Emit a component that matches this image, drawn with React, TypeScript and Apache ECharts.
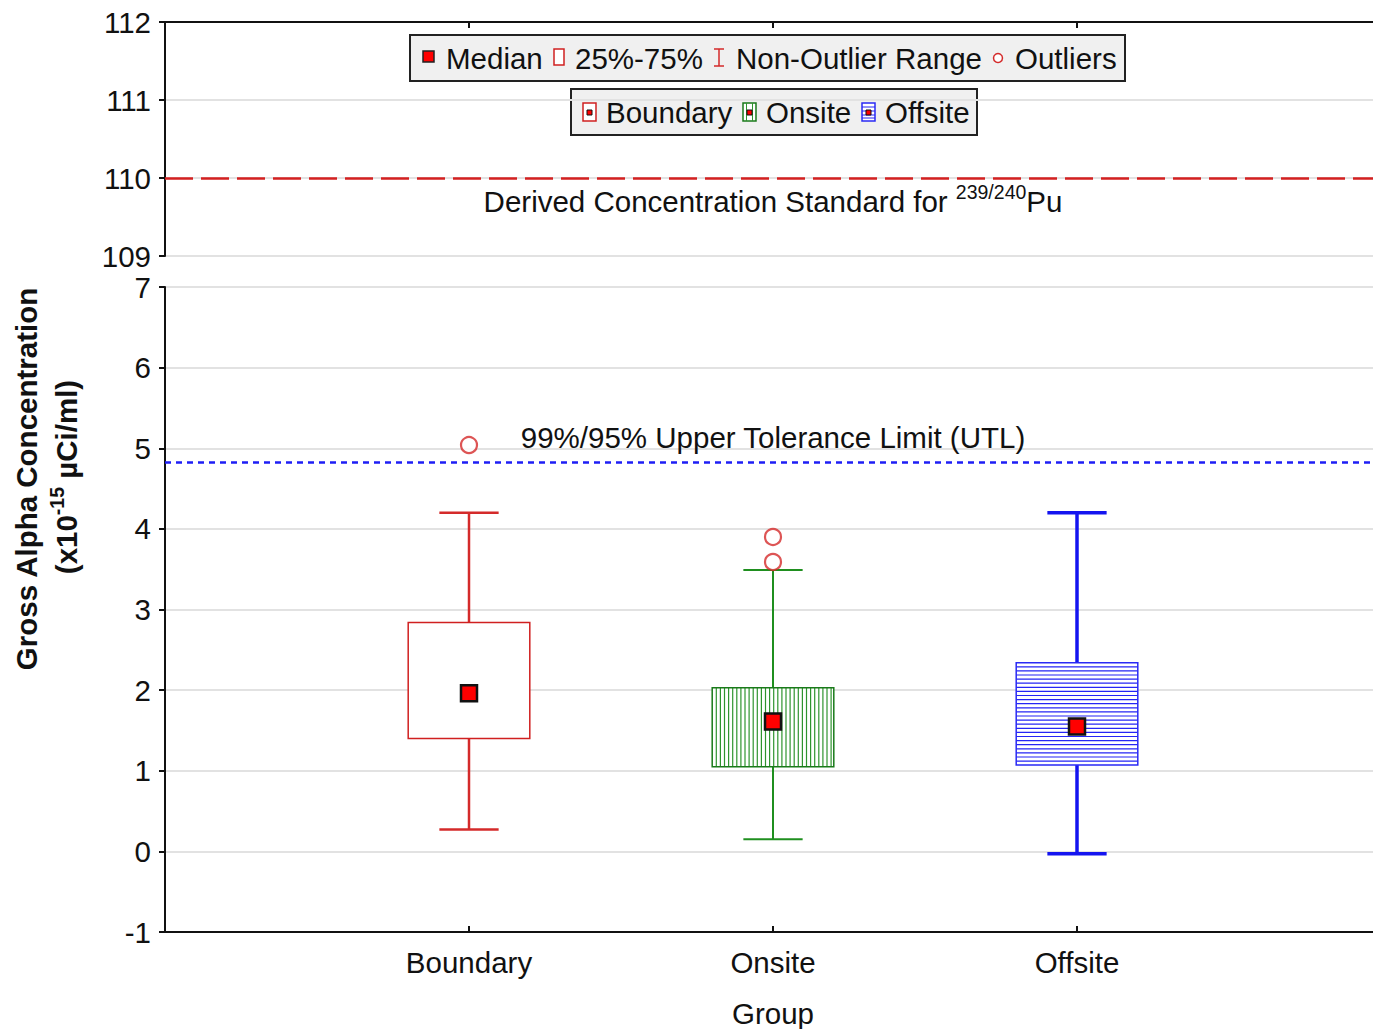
import React, { useEffect, useRef } from "react";
import * as echarts from "echarts";

// Sampling groups and their box-plot statistics (x10^-15 µCi/ml)
const groups = ["Boundary", "Onsite", "Offsite"];
const q1 = [1.4, 1.05, 1.07];
const medians = [1.96, 1.61, 1.55];
const q3 = [2.84, 2.03, 2.34];
const whiskerLow = [0.27, 0.15, -0.03];
const whiskerHigh = [4.2, 3.49, 4.2];
const outlierGroup = ["Boundary", "Onsite", "Onsite"];
const outlierValue = [5.04, 3.9, 3.59];

// Reference levels
const dcsLevel = 110; // Derived Concentration Standard for 239/240Pu
const utlLevel = 4.83; // 99%/95% upper tolerance limit

// Broken value axis: upper and lower panels
const upperRange = [109, 112];
const lowerRange = [-1, 7];

const FONT = "'Liberation Sans', Arial, Helvetica, sans-serif";
const TXT = "#111";
const FS = 29.5;

type GroupStyle = { line: string; box: string; hatch: string; fill: "plain" | "vertical" | "horizontal"; whisker: number };
const groupStyles: GroupStyle[] = [
  { line: "#d42a2a", box: "#d02020", hatch: "#d02020", fill: "plain", whisker: 2.5 },
  { line: "#1f8f1f", box: "#1a7a1a", hatch: "#2f942f", fill: "vertical", whisker: 2 },
  { line: "#1414f0", box: "#2a2af5", hatch: "#2525f5", fill: "horizontal", whisker: 3.5 },
];

const BOX_WIDTH = 0.4; // in x-axis units
const CAP_WIDTH = 0.195;
const HATCH_STEP = 4.1;

function renderBox(params: any, api: any) {
  const gi = api.value(6) as number;
  const st = groupStyles[gi];
  const x = api.value(0);
  const [cx, yQ1] = api.coord([x, api.value(1)]);
  const yMed = api.coord([x, api.value(2)])[1];
  const yQ3 = api.coord([x, api.value(3)])[1];
  const yLo = api.coord([x, api.value(4)])[1];
  const yHi = api.coord([x, api.value(5)])[1];
  const half = api.size([BOX_WIDTH, 0])[0] / 2;
  const capHalf = api.size([CAP_WIDTH, 0])[0] / 2;
  const wl = { stroke: st.line, lineWidth: st.whisker };
  const children: any[] = [
    { type: "line", shape: { x1: cx, y1: yHi, x2: cx, y2: yQ3 }, style: wl },
    { type: "line", shape: { x1: cx, y1: yQ1, x2: cx, y2: yLo }, style: wl },
    { type: "line", shape: { x1: cx - capHalf, y1: yHi, x2: cx + capHalf, y2: yHi }, style: wl },
    { type: "line", shape: { x1: cx - capHalf, y1: yLo, x2: cx + capHalf, y2: yLo }, style: wl },
    { type: "rect", shape: { x: cx - half, y: yQ3, width: half * 2, height: yQ1 - yQ3 }, style: { fill: "#fff", stroke: "none" } },
  ];
  if (st.fill === "vertical") {
    for (let xx = cx - half + HATCH_STEP; xx < cx + half - 1; xx += HATCH_STEP) {
      children.push({ type: "line", shape: { x1: xx, y1: yQ3, x2: xx, y2: yQ1 }, style: { stroke: st.hatch, lineWidth: 1.2 } });
    }
  } else if (st.fill === "horizontal") {
    for (let yy = yQ3 + HATCH_STEP; yy < yQ1 - 1; yy += HATCH_STEP) {
      children.push({ type: "line", shape: { x1: cx - half, y1: yy, x2: cx + half, y2: yy }, style: { stroke: st.hatch, lineWidth: 1.2 } });
    }
  }
  children.push({
    type: "rect",
    shape: { x: cx - half, y: yQ3, width: half * 2, height: yQ1 - yQ3 },
    style: { fill: "none", stroke: st.box, lineWidth: 1.5 },
  });
  children.push({
    type: "rect",
    shape: { x: cx - 8, y: yMed - 8, width: 16, height: 16 },
    style: { fill: "#ff0000", stroke: "#111", lineWidth: 2.5 },
  });
  return { type: "group", children };
}

// Legend drawing helpers
const legendText = (x: number, y: number, text: string) => ({
  type: "text",
  x,
  y,
  style: { text, font: `${FS}px ${FONT}`, fill: TXT, verticalAlign: "middle", align: "left" },
});

function legendGraphics(): any[] {
  const els: any[] = [];
  // first legend box
  els.push({ type: "rect", shape: { x: 410, y: 35, width: 715, height: 46 }, style: { fill: "#f0f0f0", stroke: "#222", lineWidth: 2 } });
  els.push({ type: "rect", shape: { x: 423, y: 51, width: 11, height: 11 }, style: { fill: "#ff0000", stroke: "#222", lineWidth: 1.5 } });
  els.push(legendText(446, 58, "Median"));
  els.push({ type: "rect", shape: { x: 554, y: 49, width: 10, height: 16 }, style: { fill: "#fff", stroke: "#d02020", lineWidth: 1.5 } });
  els.push(legendText(575, 58, "25%-75%"));
  els.push({ type: "line", shape: { x1: 719, y1: 49, x2: 719, y2: 66 }, style: { stroke: "#d42a2a", lineWidth: 1.5 } });
  els.push({ type: "line", shape: { x1: 714, y1: 49, x2: 724, y2: 49 }, style: { stroke: "#d42a2a", lineWidth: 1.5 } });
  els.push({ type: "line", shape: { x1: 714, y1: 66, x2: 724, y2: 66 }, style: { stroke: "#d42a2a", lineWidth: 1.5 } });
  els.push(legendText(736, 58, "Non-Outlier Range"));
  els.push({ type: "circle", shape: { cx: 998, cy: 58, r: 4.5 }, style: { fill: "#fff", stroke: "#d42a2a", lineWidth: 1.5 } });
  els.push(legendText(1015, 58, "Outliers"));

  // second legend box
  els.push({ type: "rect", shape: { x: 571, y: 89, width: 406, height: 46 }, style: { fill: "#f0f0f0", stroke: "#222", lineWidth: 2 } });
  const icons = [
    { x: 583, text: 606 },
    { x: 743, text: 766 },
    { x: 862, text: 885 },
  ];
  icons.forEach((ic, i) => {
    const st = groupStyles[i];
    const ix = ic.x, iy = 103, iw = 13, ih = 18;
    els.push({ type: "rect", shape: { x: ix, y: iy, width: iw, height: ih }, style: { fill: "#fff", stroke: st.box, lineWidth: 1.5 } });
    if (st.fill === "vertical") {
      [ix + 3.5, ix + 9.5].forEach((lx) =>
        els.push({ type: "line", shape: { x1: lx, y1: iy, x2: lx, y2: iy + ih }, style: { stroke: st.hatch, lineWidth: 1 } })
      );
    } else if (st.fill === "horizontal") {
      [iy + 4, iy + 8, iy + 12, iy + 15].forEach((ly) =>
        els.push({ type: "line", shape: { x1: ix, y1: ly, x2: ix + iw, y2: ly }, style: { stroke: st.hatch, lineWidth: 1 } })
      );
    }
    els.push({ type: "rect", shape: { x: ix + 4, y: iy + 7, width: 5, height: 5 }, style: { fill: "#ff0000", stroke: "#111", lineWidth: 1 } });
    els.push(legendText(ic.text, 112, groups[i]));
  });
  return els;
}

export default function App() {
  const ref = useRef<HTMLDivElement>(null);

  useEffect(() => {
    if (!ref.current) return;
    const chart = echarts.init(ref.current, null, { renderer: "svg" });

    const boxData = groups.map((g, i) => [i + 1, q1[i], medians[i], q3[i], whiskerLow[i], whiskerHigh[i], i]);
    const outlierData = outlierValue.map((v, k) => [groups.indexOf(outlierGroup[k]) + 1, v]);

    const yAxisCommon = {
      type: "value" as const,
      interval: 1,
      axisLine: { show: true, lineStyle: { color: "#111", width: 2 } },
      axisTick: { show: true, inside: false, length: 6, lineStyle: { color: "#111", width: 2 } },
      axisLabel: { color: TXT, fontSize: FS, fontFamily: FONT, margin: 14 },
      splitLine: { show: true, lineStyle: { color: "#e2e2e2", width: 2 } },
    };
    const xAxisCommon = {
      type: "value" as const,
      min: 0,
      max: 4,
      interval: 1,
      axisLine: { show: true, onZero: false, lineStyle: { color: "#111", width: 2 } },
      axisTick: { show: true, inside: true, length: 6, lineStyle: { color: "#111", width: 2 } },
      splitLine: { show: false },
    };

    chart.setOption({
      animation: false,
      backgroundColor: "#ffffff",
      grid: [
        { left: 165, right: -8, top: 22, height: 234, containLabel: false, outerBoundsMode: "none" },
        { left: 165, right: -8, top: 287, height: 645, containLabel: false, outerBoundsMode: "none" },
      ],
      xAxis: [
        { ...xAxisCommon, gridIndex: 0, position: "top", axisLabel: { show: false } },
        {
          ...xAxisCommon,
          gridIndex: 1,
          position: "bottom",
          axisLabel: {
            color: TXT,
            fontSize: FS,
            fontFamily: FONT,
            margin: 15,
            formatter: (v: number) => groups[v - 1] ?? "",
          },
          name: "Group",
          nameLocation: "middle",
          nameGap: 66,
          nameTextStyle: { color: TXT, fontSize: FS, fontFamily: FONT },
        },
      ],
      yAxis: [
        { ...yAxisCommon, gridIndex: 0, min: upperRange[0], max: upperRange[1] },
        { ...yAxisCommon, gridIndex: 1, min: lowerRange[0], max: lowerRange[1] },
      ],
      series: [
        {
          type: "line",
          xAxisIndex: 0,
          yAxisIndex: 0,
          data: [],
          markLine: {
            silent: true,
            symbol: ["none", "none"],
            lineStyle: { color: "#d42020", width: 2.5, type: [28, 8] },
            label: {
              show: true,
              position: "insideMiddleBottom",
              distance: 4,
              formatter: "{a|Derived Concentration Standard for }{s|239/240}{a|Pu}",
              rich: {
                a: { fontSize: FS, fontFamily: FONT, color: TXT, lineHeight: 34, verticalAlign: "bottom" },
                s: { fontSize: 19.5, fontFamily: FONT, color: TXT, lineHeight: 20, verticalAlign: "top" },
              },
            },
            data: [{ yAxis: dcsLevel }],
          },
        },
        {
          type: "custom",
          xAxisIndex: 1,
          yAxisIndex: 1,
          renderItem: renderBox,
          encode: { x: 0, y: [1, 2, 3, 4, 5] },
          data: boxData,
          markLine: {
            silent: true,
            symbol: ["none", "none"],
            lineStyle: { color: "#1e1ef5", width: 2.5, type: [6, 5] },
            label: {
              show: true,
              position: "insideMiddleTop",
              distance: 9,
              formatter: "99%/95% Upper Tolerance Limit (UTL)",
              color: TXT,
              fontSize: FS,
              fontFamily: FONT,
            },
            data: [{ yAxis: utlLevel }],
          },
          z: 3,
        },
        {
          type: "scatter",
          xAxisIndex: 1,
          yAxisIndex: 1,
          data: outlierData,
          symbol: "circle",
          symbolSize: 16,
          itemStyle: { color: "#ffffff", borderColor: "#d42a2a", borderWidth: 2.2 },
          z: 4,
        },
      ],
      graphic: [
        ...legendGraphics(),
        {
          type: "text",
          x: 26,
          y: 479,
          rotation: Math.PI / 2,
          style: {
            text: "Gross Alpha Concentration",
            font: `bold 29.5px ${FONT}`,
            fill: TXT,
            align: "center",
            verticalAlign: "middle",
          },
        },
        {
          type: "text",
          x: 64,
          y: 477,
          rotation: Math.PI / 2,
          style: {
            text: "{a|(x10}{s|-15}{a| µCi/ml)}",
            align: "center",
            verticalAlign: "middle",
            rich: {
              a: { font: `bold 29.5px ${FONT}`, fill: TXT, lineHeight: 34, verticalAlign: "bottom" },
              s: { font: `bold 19.5px ${FONT}`, fill: TXT, lineHeight: 20, verticalAlign: "top" },
            },
          },
        },
      ],
    });

    return () => chart.dispose();
  }, []);

  return (
    <div
      ref={ref}
      style={{ position: "absolute", left: 0, top: 0, width: 1373, height: 1029, background: "#fff" }}
    />
  );
}
